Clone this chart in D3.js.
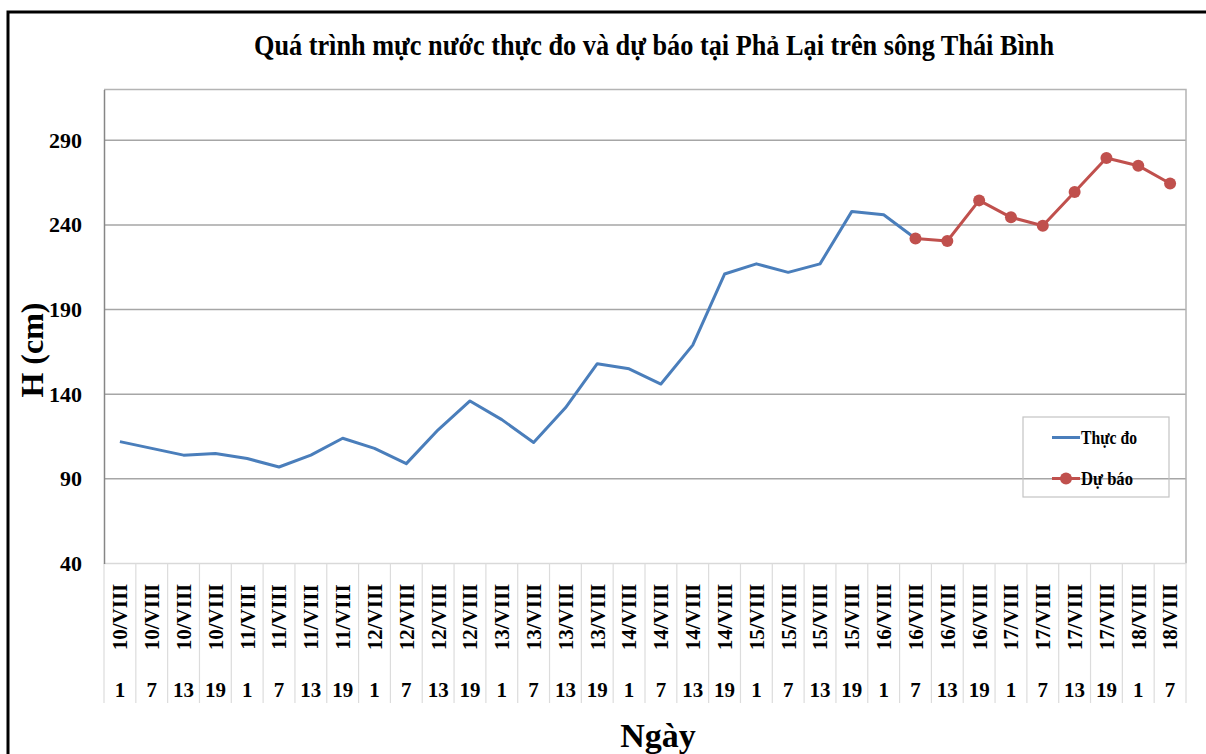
<!DOCTYPE html>
<html>
<head>
<meta charset="utf-8">
<script src="https://cdnjs.cloudflare.com/ajax/libs/d3/7.8.5/d3.min.js"></script>
<style>
    body { margin: 0; background: #fff; }
    svg text { font-family: "Liberation Serif", "Times New Roman", serif; font-weight: bold; fill: #000; }
</style>
</head>
<body>
<svg width="1206" height="754"></svg>
<script>
// date and hour of each observation
var dates = ['10/VIII', '10/VIII', '10/VIII', '10/VIII', '11/VIII', '11/VIII', '11/VIII', '11/VIII',
             '12/VIII', '12/VIII', '12/VIII', '12/VIII', '13/VIII', '13/VIII', '13/VIII', '13/VIII',
             '14/VIII', '14/VIII', '14/VIII', '14/VIII', '15/VIII', '15/VIII', '15/VIII', '15/VIII',
             '16/VIII', '16/VIII', '16/VIII', '16/VIII', '17/VIII', '17/VIII', '17/VIII', '17/VIII',
             '18/VIII', '18/VIII'];
var hours = ['1', '7', '13', '19', '1', '7', '13', '19', '1', '7', '13', '19', '1', '7', '13', '19',
             '1', '7', '13', '19', '1', '7', '13', '19', '1', '7', '13', '19', '1', '7', '13', '19',
             '1', '7'];

// Thực đo (measured), null where there is no value
var measured = [112, 108, 104, 105, 102, 97, 104, 114, 108, 99, 119, 136, 125, 111.5, 132, 158,
                155, 146, 169, 211, 217, 212, 217, 248, 246, 232, null, null, null, null, null, null,
                null, null];
// Dự báo (forecast)
var forecast = [null, null, null, null, null, null, null, null, null, null, null, null, null, null,
                null, null, null, null, null, null, null, null, null, null, null, 232, 230.5, 254.5,
                244.5, 239.5, 259.5, 279.5, 275, 264.5];

var yTicks = [40, 90, 140, 190, 240, 290];

var plot = { left: 104, right: 1186, top: 89.5, bottom: 563.5 };
var blue = '#4a7ebb';
var red = '#c0504d';

var svg = d3.select('svg');

// outer black frame
svg.append('rect')
    .attr('x', 8).attr('y', 12)
    .attr('width', 1220).attr('height', 770)
    .attr('fill', 'none')
    .attr('stroke', '#000')
    .attr('stroke-width', 3);

var idx = d3.range(dates.length);
var x = d3.scaleBand().domain(idx).range([plot.left, plot.right]).padding(0);
var y = d3.scaleLinear().domain([40, 320]).range([plot.bottom, plot.top]);
var cx = function (i) { return x(i) + x.bandwidth() / 2; };

// gridlines
svg.append('g')
    .selectAll('line')
    .data(yTicks.slice(1))
    .enter().append('line')
    .attr('x1', plot.left).attr('x2', plot.right)
    .attr('y1', function (d) { return y(d); })
    .attr('y2', function (d) { return y(d); })
    .attr('stroke', '#a6a6a6')
    .attr('stroke-width', 1.5);

// plot border top / right
svg.append('path')
    .attr('d', 'M' + plot.left + ',' + plot.top + 'H' + plot.right + 'V' + plot.bottom)
    .attr('fill', 'none')
    .attr('stroke', '#b4b4b4')
    .attr('stroke-width', 1.5);

// category table under the plot
var table = svg.append('g');
table.append('line')
    .attr('x1', plot.left).attr('x2', plot.right)
    .attr('y1', plot.bottom).attr('y2', plot.bottom)
    .attr('stroke', '#d9d9d9').attr('stroke-width', 1.5);
table.selectAll('line.sep')
    .data(idx.concat([dates.length]))
    .enter().append('line')
    .attr('class', 'sep')
    .attr('x1', function (i) { return i < dates.length ? x(i) : plot.right; })
    .attr('x2', function (i) { return i < dates.length ? x(i) : plot.right; })
    .attr('y1', plot.bottom).attr('y2', 703)
    .attr('stroke', '#dcdcdc').attr('stroke-width', 1.2);

table.selectAll('text.date')
    .data(idx)
    .enter().append('text')
    .attr('class', 'date')
    .attr('transform', function (i) { return 'translate(' + cx(i) + ',617) rotate(-90)'; })
    .attr('text-anchor', 'middle')
    .attr('dy', '0.35em')
    .style('font-size', '21px')
    .text(function (i) { return dates[i]; });

table.selectAll('text.hour')
    .data(idx)
    .enter().append('text')
    .attr('class', 'hour')
    .attr('x', function (i) { return cx(i); })
    .attr('y', 697)
    .attr('text-anchor', 'middle')
    .style('font-size', '21px')
    .text(function (i) { return hours[i]; });

// left axis
var yAxis = svg.append('g')
    .attr('transform', 'translate(' + plot.left + ',0)')
    .call(d3.axisLeft(y).tickValues(yTicks).tickSize(0).tickPadding(22));
yAxis.select('.domain').attr('stroke', '#868686').attr('stroke-width', 1.5);
yAxis.selectAll('text')
    .style('font-family', '"Liberation Serif", serif')
    .style('font-size', '22px')
    .style('font-weight', 'bold')
    .attr('fill', '#000');

// lines
var line = d3.line()
    .defined(function (d) { return d != null; })
    .x(function (d, i) { return cx(i); })
    .y(function (d) { return y(d); });

svg.append('path')
    .datum(measured)
    .attr('d', line)
    .attr('fill', 'none')
    .attr('stroke', blue)
    .attr('stroke-width', 3)
    .attr('stroke-linejoin', 'round');

svg.append('path')
    .datum(forecast)
    .attr('d', line)
    .attr('fill', 'none')
    .attr('stroke', red)
    .attr('stroke-width', 3)
    .attr('stroke-linejoin', 'round');

svg.append('g')
    .selectAll('circle')
    .data(idx.filter(function (i) { return forecast[i] != null; }))
    .enter().append('circle')
    .attr('cx', function (i) { return cx(i); })
    .attr('cy', function (i) { return y(forecast[i]); })
    .attr('r', 6)
    .attr('fill', red);

// legend (no fill, gridline shows through)
var legend = svg.append('g');
legend.append('rect')
    .attr('x', 1023).attr('y', 417)
    .attr('width', 146).attr('height', 80)
    .attr('fill', 'none')
    .attr('stroke', '#c4c4c4')
    .attr('stroke-width', 1.2);
legend.append('line')
    .attr('x1', 1052).attr('x2', 1080).attr('y1', 437.5).attr('y2', 437.5)
    .attr('stroke', blue).attr('stroke-width', 3);
legend.append('text')
    .attr('x', 1081).attr('y', 444)
    .attr('textLength', 56).attr('lengthAdjust', 'spacingAndGlyphs')
    .style('font-size', '19px')
    .text('Thực đo');
legend.append('line')
    .attr('x1', 1052).attr('x2', 1080).attr('y1', 478.5).attr('y2', 478.5)
    .attr('stroke', red).attr('stroke-width', 3);
legend.append('circle')
    .attr('cx', 1066).attr('cy', 478.5).attr('r', 6)
    .attr('fill', red);
legend.append('text')
    .attr('x', 1081).attr('y', 485)
    .attr('textLength', 52).attr('lengthAdjust', 'spacingAndGlyphs')
    .style('font-size', '19px')
    .text('Dự báo');

// titles
svg.append('text')
    .attr('x', 654).attr('y', 55)
    .attr('text-anchor', 'middle')
    .attr('textLength', 800).attr('lengthAdjust', 'spacingAndGlyphs')
    .style('font-size', '30px')
    .text('Quá trình mực nước thực đo và dự báo tại Phả Lại trên sông Thái Bình');

svg.append('text')
    .attr('x', 658).attr('y', 747)
    .attr('text-anchor', 'middle')
    .style('font-size', '34px')
    .text('Ngày');

svg.append('text')
    .attr('transform', 'translate(32,350) rotate(-90)')
    .attr('text-anchor', 'middle')
    .attr('dy', '0.35em')
    .style('font-size', '32px')
    .text('H (cm)');
</script>
</body>
</html>
